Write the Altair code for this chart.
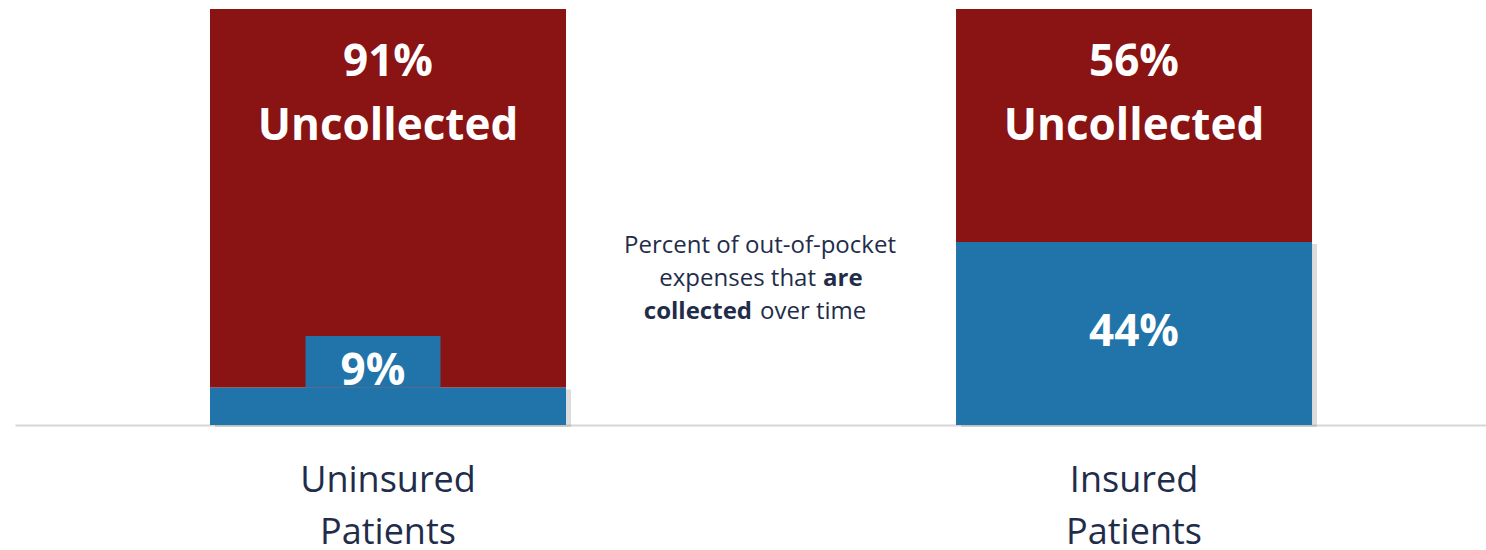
import altair as alt
import pandas as pd

# ---- data ----
categories = ["Uninsured Patients", "Insured Patients"]
collected = [9, 44]
uncollected = [91, 56]
collected_text = ["9%", "44%"]
uncollected_pct_text = ["91%", "56%"]
uncollected_word = ["Uncollected", "Uncollected"]
collected_label_y = [12.7, 22.0]      # vertical centre of the collected label (in % units)
collected_label_dx = [-15, 0]          # horizontal nudge of the collected label
label_box_top = [21.4, None]           # blue label box above the thin 9% segment

note_text = ["Percent of out-of-pocket", "expenses that", "are", "collected", "over time"]
note_weight = ["normal", "normal", "bold", "bold", "normal"]
note_align = ["center", "right", "left", "right", "left"]
note_x = [745, 801, 808, 737, 745]
note_y = [237, 270, 270, 303, 303]

RED = "#8a1313"
BLUE = "#2174a9"
NAVY = "#1f2d4a"
FONT = "Open Sans"

# ---- tables ----
long_rows = []
for c, col, unc in zip(categories, collected, uncollected):
    long_rows.append({"category": c, "segment": "Collected", "value": col, "ord": 0})
    long_rows.append({"category": c, "segment": "Uncollected", "value": unc, "ord": 1})
long_df = pd.DataFrame(long_rows)

wide_df = pd.DataFrame({
    "category": categories,
    "collected": collected,
    "ctext": collected_text,
    "pct": uncollected_pct_text,
    "word": uncollected_word,
    "cy": collected_label_y,
    "box_top": label_box_top,
})

xscale = alt.Scale(domain=categories, paddingInner=0.5228, paddingOuter=0.2473, align=0.5285)
yscale = alt.Scale(domain=[0, 100])

xenc = alt.X(
    "category:N", sort=categories, scale=xscale, title=None,
    axis=alt.Axis(
        labelAngle=0, ticks=False, grid=False,
        domainColor="#d6d6d6", domainWidth=2,
        labelFont=FONT, labelFontSize=36, labelColor=NAVY,
        labelPadding=38, labelLineHeight=52,
        labelExpr="split(datum.label, ' ')",
    ),
)

base_wide = alt.Chart(wide_df)

shadow = base_wide.mark_bar(color="#8c8c8c", opacity=0.3, xOffset=5, yOffset=2).encode(
    x=xenc,
    y=alt.Y("collected:Q", scale=yscale, axis=None),
)

bars = alt.Chart(long_df).mark_bar().encode(
    x=xenc,
    y=alt.Y("value:Q", stack="zero", scale=yscale, axis=None),
    color=alt.Color("segment:N", scale=alt.Scale(domain=["Collected", "Uncollected"], range=[BLUE, RED]), legend=None),
    order=alt.Order("ord:Q"),
)

layers = [shadow, bars]

for i in range(len(categories)):
    row = base_wide.transform_filter(alt.datum.category == categories[i])
    if label_box_top[i] is not None:
        layers.append(
            row.mark_bar(size=135, color=BLUE, xOffset=collected_label_dx[i]).encode(
                x=xenc,
                y=alt.Y("collected:Q", scale=yscale, axis=None),
                y2="box_top:Q",
            )
        )
    layers.append(
        row.mark_text(font=FONT, fontSize=44, fontWeight="bold", color="white",
                      baseline="middle", dx=collected_label_dx[i]).encode(
            x=xenc,
            y=alt.Y("cy:Q", scale=yscale, axis=None),
            text="ctext:N",
        )
    )

pct = base_wide.mark_text(font=FONT, fontSize=44, fontWeight="bold", color="white", baseline="middle").encode(
    x=xenc,
    y=alt.value(54),
    text="pct:N",
)

word = base_wide.mark_text(font=FONT, fontSize=44, fontWeight="bold", color="white", baseline="middle").encode(
    x=xenc,
    y=alt.value(118),
    text="word:N",
)
layers += [pct, word]

note_df = pd.DataFrame({"text": note_text})
for i in range(len(note_text)):
    layers.append(
        alt.Chart(note_df.iloc[[i]]).mark_text(
            font=FONT, fontSize=24, color=NAVY, baseline="middle",
            align=note_align[i], fontWeight=note_weight[i],
        ).encode(
            x=alt.value(note_x[i]), y=alt.value(note_y[i]), text="text:N",
        )
    )

chart = alt.layer(*layers).properties(
    width=1471, height=416,
    autosize=alt.AutoSizeParams(type="none"),
    padding={"left": 15, "top": 9, "right": 0, "bottom": 125},
    background="white",
).configure_view(stroke=None)

chart.save("out.html", embed_options={"renderer": "svg", "actions": False})
